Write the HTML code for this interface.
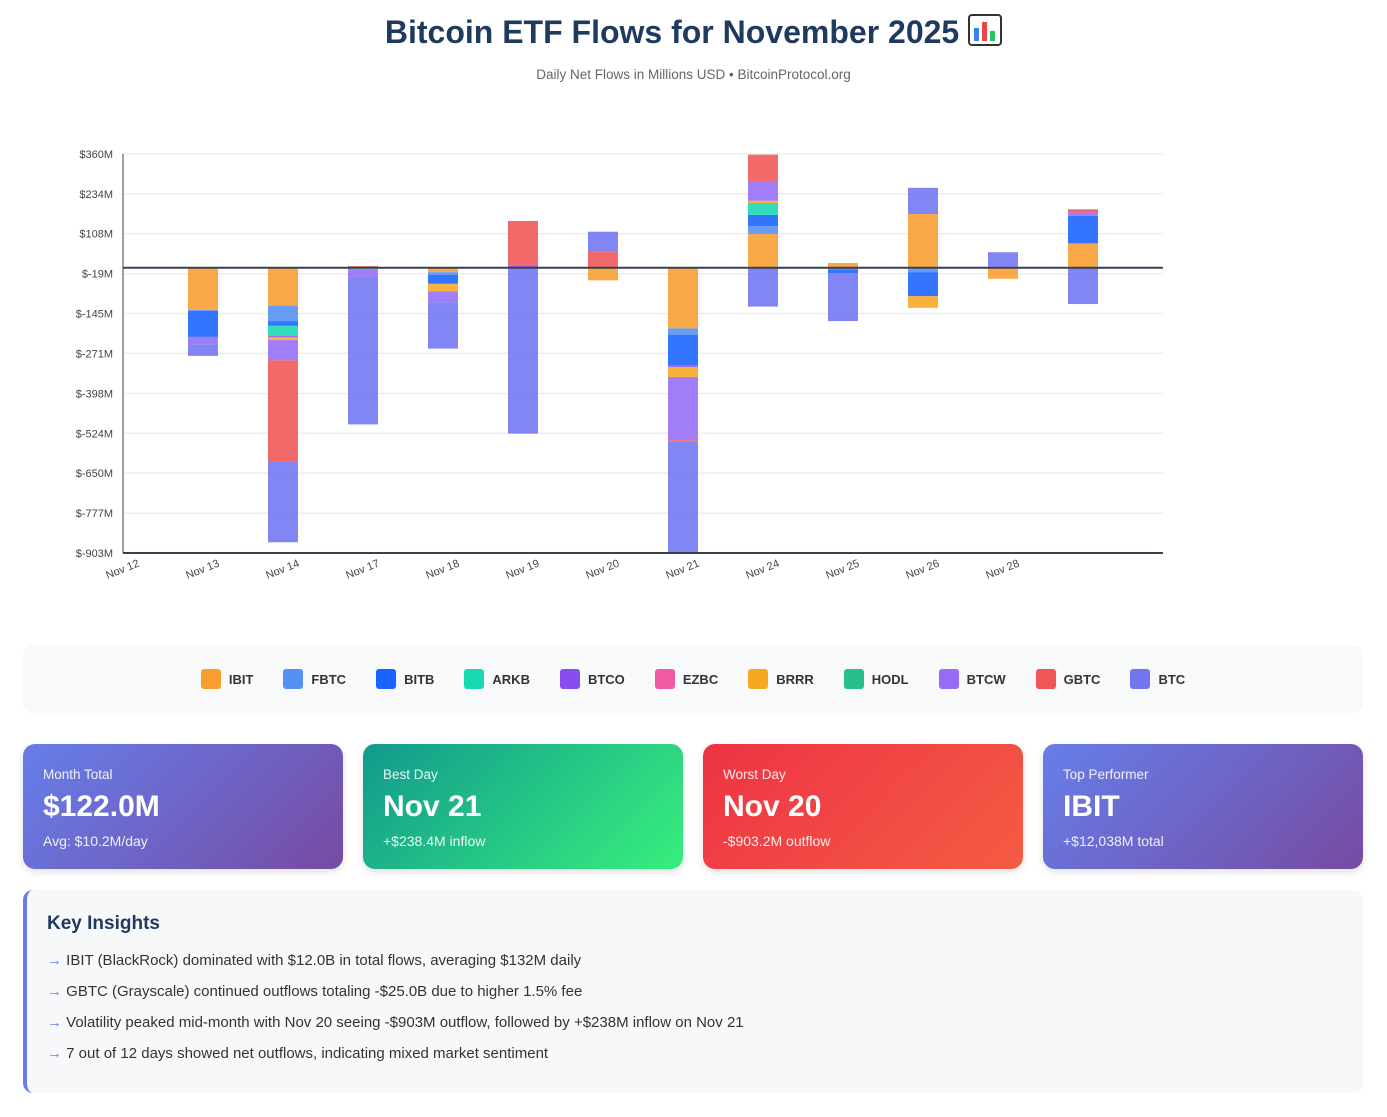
<!DOCTYPE html>
<html><head><meta charset="utf-8">
<style>
body{margin:0;background:#fff;font-family:"Liberation Sans",sans-serif;width:1387px;height:1117px;overflow:hidden;position:relative}
.title{position:absolute;top:14px;left:0;width:1387px;text-align:center;font-size:32px;font-weight:bold;color:#1e3a5f}
.sub{position:absolute;top:67px;left:0;width:1387px;text-align:center;font-size:13.5px;color:#666}
#legend{position:absolute;left:23px;top:645px;width:1340px;height:68px;background:#f8f9fa;border-radius:10px;display:flex;justify-content:center;align-items:center;gap:0}
.li{display:flex;align-items:center;font-size:13px;font-weight:bold;color:#333;margin:0 15px}
.sw{width:20px;height:20px;border-radius:3px;margin-right:8px}
.card{position:absolute;top:744px;width:320px;height:125px;border-radius:12px;color:#fff;box-shadow:0 3px 8px rgba(0,0,0,.12)}
.card .l{position:absolute;left:20px;top:23px;font-size:13.5px;opacity:.9}
.card .v{position:absolute;left:20px;top:46px;font-size:30px;font-weight:bold}
.card .s{position:absolute;left:20px;top:89px;font-size:14px;opacity:.9}
#ins{position:absolute;left:23px;top:890px;width:1336px;height:203px;background:#f7f8fa;border-left:4px solid #667eea;border-radius:10px}
#ins h3{margin:0;position:absolute;left:20px;top:23px;font-size:19px;color:#1e3a5f}
#ins .r{position:absolute;left:20px;font-size:15px;color:#333}
#ins .r span{color:#667eea}
</style></head><body>
<div class="title">Bitcoin ETF Flows for November 2025 <svg width="34" height="32" viewBox="0 0 34 32" style="vertical-align:-3px"><rect x="1" y="1" width="32" height="30" rx="3" fill="#fff" stroke="#333" stroke-width="2"/><rect x="6" y="14" width="5" height="13" fill="#3b82f6"/><rect x="14" y="8" width="5" height="19" fill="#ef4444"/><rect x="22" y="17" width="5" height="10" fill="#22c55e"/></svg></div>
<div class="sub">Daily Net Flows in Millions USD • BitcoinProtocol.org</div>
<svg id="chart" width="1387" height="620" style="position:absolute;left:0;top:0"></svg>
<div id="legend"></div>
<div class="card" style="left:23px;background:linear-gradient(135deg,#667eea,#764ba2)"><div class="l">Month Total</div><div class="v">$122.0M</div><div class="s">Avg: $10.2M/day</div></div>
<div class="card" style="left:363px;background:linear-gradient(135deg,#11998e,#38ef7d)"><div class="l">Best Day</div><div class="v">Nov 21</div><div class="s">+$238.4M inflow</div></div>
<div class="card" style="left:703px;background:linear-gradient(135deg,#ee3344,#f45c43)"><div class="l">Worst Day</div><div class="v">Nov 20</div><div class="s">-$903.2M outflow</div></div>
<div class="card" style="left:1043px;background:linear-gradient(135deg,#667eea,#764ba2)"><div class="l">Top Performer</div><div class="v">IBIT</div><div class="s">+$12,038M total</div></div>
<div id="ins">
<h3>Key Insights</h3>
<div class="r" style="top:62px"><span>→</span> IBIT (BlackRock) dominated with $12.0B in total flows, averaging $132M daily</div>
<div class="r" style="top:93px"><span>→</span> GBTC (Grayscale) continued outflows totaling -$25.0B due to higher 1.5% fee</div>
<div class="r" style="top:124px"><span>→</span> Volatility peaked mid-month with Nov 20 seeing -$903M outflow, followed by +$238M inflow on Nov 21</div>
<div class="r" style="top:155px"><span>→</span> 7 out of 12 days showed net outflows, indicating mixed market sentiment</div>
</div>
<script>
const categories=["Nov 12","Nov 13","Nov 14","Nov 17","Nov 18","Nov 19","Nov 20","Nov 21","Nov 24","Nov 25","Nov 26","Nov 28"];
const seriesNames=["IBIT","FBTC","BITB","ARKB","BTCO","EZBC","BRRR","HODL","BTCW","GBTC","BTC"];
const seriesColors=["#F7931A","#4285F4","#0052FF","#00D4AA","#7C3AED","#EC4899","#F59E0B","#10B981","#8B5CF6","#EF4444","#6366F1"];
const IBIT=[-134,-120,-2,-14,0,-40,-192,107,15,170,-35,77];
const FBTC=[-2,-49,0,-9,0,0,-21,25,-5,-14,0,0];
const BITB=[-83,-15,0,-28,0,0,-96,35,-12,-76,3,87];
const ARKB=[0,-32,-2,0,0,0,0,35,0,0,0,0];
const BTCO=[0,-3,0,0,8,0,-5,2,0,0,0,0];
const EZBC=[0,-2,0,0,0,0,0,0,0,0,0,0];
const BRRR=[0,-8,0,-24,0,0,-32,8,0,-37,0,0];
const HODL=[0,0,-3,0,0,0,0,0,0,0,0,0];
const BTCW=[-23,-64,-24,-34,0,0,-200,61,0,0,4,11];
const GBTC=[0,-320,5,0,140,52,-5,85,0,0,0,10];
const BTC=[-37,-256,-465,-147,-525,62,-360,-123,-152,83,42,-115];
const seriesValues=[IBIT,FBTC,BITB,ARKB,BTCO,EZBC,BRRR,HODL,BTCW,GBTC,BTC];
const yTicks=[360,234,108,-19,-145,-271,-398,-524,-650,-777,-903];
const yMin=-903,yMax=360;
const X0=123,X1=1163,Y0=154,Y1=553;
const NS="http://www.w3.org/2000/svg";
const svg=document.getElementById('chart');
function y(v){return Y1-(Math.max(yMin,Math.min(yMax,v))-yMin)/(yMax-yMin)*(Y1-Y0);}
function xb(i){return X0+80*(i+1);}
function xl(i){return X0+80*i;}
function mk(t,a){const e=document.createElementNS(NS,t);for(const k in a)e.setAttribute(k,a[k]);svg.appendChild(e);return e;}
yTicks.forEach((t,i)=>{
  const g=mk('line',{x1:X0,x2:X1,y1:y(t),y2:y(t),stroke:'#eee','stroke-width':1.5});
  
  
  const tx=mk('text',{x:113,y:y(t)+4,'text-anchor':'end','font-size':11,fill:'#444','font-family':'Liberation Sans'});
  tx.textContent='$'+t+'M';
  
  
});
categories.forEach((c,i)=>{
  let pos=0,neg=0;
  seriesValues.forEach((arr,s)=>{
    const v=arr[i];if(!v)return;
    let a,b;
    if(v>0){a=pos;b=pos+v;pos=b;}else{a=neg;b=neg+v;neg=b;}
    const r=mk('rect',{x:xb(i)-15,width:30,y:Math.min(y(a),y(b)),height:Math.abs(y(a)-y(b)),fill:seriesColors[s],'fill-opacity':0.8});
    
    
  });
  const tx=mk('text',{x:xl(i)+17,y:566,'text-anchor':'end','font-size':11,fill:'#444','font-family':'Liberation Sans',transform:'rotate(-22 '+(xl(i)+17)+' 566)'});
  tx.textContent=c;
  
  
});
const z=mk('line',{x1:X0,x2:X1,y1:y(0),y2:y(0),stroke:'#374151','stroke-width':2});


const xa=mk('line',{x1:X0,x2:X1,y1:Y1,y2:Y1,stroke:'#374151','stroke-width':2});


const ya=mk('line',{x1:X0,x2:X0,y1:Y0,y2:Y1,stroke:'#374151','stroke-width':1});


const lg=document.getElementById('legend');
seriesNames.forEach((n,s)=>{
  const d=document.createElement('div');d.className='li';
  
  
  d.innerHTML='<div class="sw" style="background:'+seriesColors[s]+';opacity:.9"></div>'+n;
  lg.appendChild(d);
});
</script>
</body></html>
